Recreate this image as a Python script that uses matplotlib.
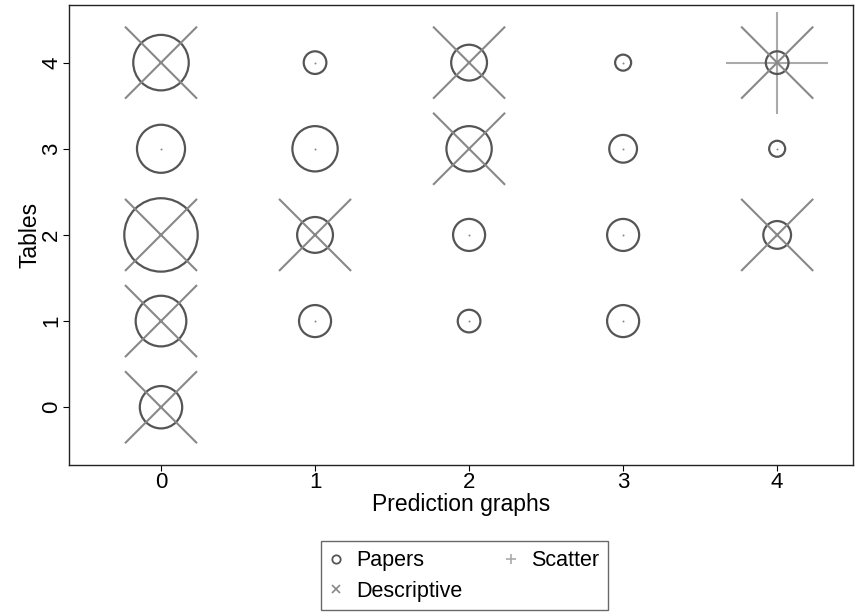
import matplotlib.pyplot as plt
import numpy as np

# Data: cells (prediction graphs, tables) with counts
pred_graphs = [0, 1, 2, 3, 4,
               0, 1, 2, 3, 4,
               0, 1, 2, 3, 4,
               0, 1, 2, 3,
               0]
tables = [4, 4, 4, 4, 4,
          3, 3, 3, 3, 3,
          2, 2, 2, 2, 2,
          1, 1, 1, 1,
          0]
papers = [12, 2, 5, 1, 2,
          9, 8, 8, 3, 1,
          21, 5, 4, 4, 3,
          10, 4, 2, 4,
          7]
descriptive = [1, 0, 1, 0, 1,
               0, 0, 1, 0, 0,
               1, 1, 0, 0, 1,
               1, 0, 0, 0,
               1]
scatter = [0, 0, 0, 0, 1,
           0, 0, 0, 0, 0,
           0, 0, 0, 0, 0,
           0, 0, 0, 0,
           0]

x = np.array(pred_graphs)
y = np.array(tables)
papers = np.array(papers)
descriptive = np.array(descriptive)
scatter = np.array(scatter)

plt.rcParams['font.family'] = ['Liberation Sans', 'DejaVu Sans']

fig = plt.figure(figsize=(8.63, 6.15), dpi=100)
ax = fig.add_axes([0.080, 0.244, 0.908, 0.748])

circ_col = '#555555'
desc_col = '#888888'
scat_col = '#aaaaaa'

# Papers: area proportional to count
ax.scatter(x, y, s=papers * 133, facecolors='none', edgecolors=circ_col,
           linewidths=1.6, zorder=2)

# Descriptive
d = descriptive > 0
ax.scatter(x[d], y[d], s=descriptive[d] * 2690, marker='x', color=desc_col,
           linewidths=1.5, zorder=3)
ax.scatter(x[~d], y[~d], s=2, marker='o', color=desc_col, linewidths=0, zorder=3)

# Scatter
sc = scatter > 0
ax.scatter(x[sc], y[sc], s=scatter[sc] * 5400, marker='+', color=scat_col,
           linewidths=1.5, zorder=1)

ax.set_xlim(-0.597, 4.49)
ax.set_ylim(-0.67, 4.67)
ax.set_xticks([0, 1, 2, 3, 4])
ax.set_yticks([0, 1, 2, 3, 4])
ax.tick_params(axis='both', labelsize=16, length=4, width=0.8, direction='out', pad=1)
for lbl in ax.get_yticklabels():
    lbl.set_rotation(90)
    lbl.set_va('center')
ax.set_xlabel('Prediction graphs', fontsize=16.5, labelpad=0)
ax.set_ylabel('Tables', fontsize=16.5, labelpad=0)
for sp in ax.spines.values():
    sp.set_linewidth(1.0)
    sp.set_color('#222222')

# Legend
h1 = plt.Line2D([], [], ls='none', marker='o', mfc='none', mec=circ_col, ms=6, mew=1.3)
h2 = plt.Line2D([], [], ls='none', marker='x', color=desc_col, ms=6, mew=1.2)
h3 = plt.Line2D([], [], ls='none', marker='+', color=scat_col, ms=7, mew=1.2)
leg = fig.legend([h1, h2, h3], ['Papers', 'Descriptive', 'Scatter'],
                 ncol=2, loc='lower center', bbox_to_anchor=(0.538, -0.01),
                 fontsize=15.5, frameon=True, fancybox=False, edgecolor='#444444',
                 handlelength=0.6, handletextpad=0.65, columnspacing=1.95,
                 labelspacing=0.45, borderpad=0.4)
leg.get_frame().set_linewidth(1.0)

fig.savefig('out.png', dpi=100)
